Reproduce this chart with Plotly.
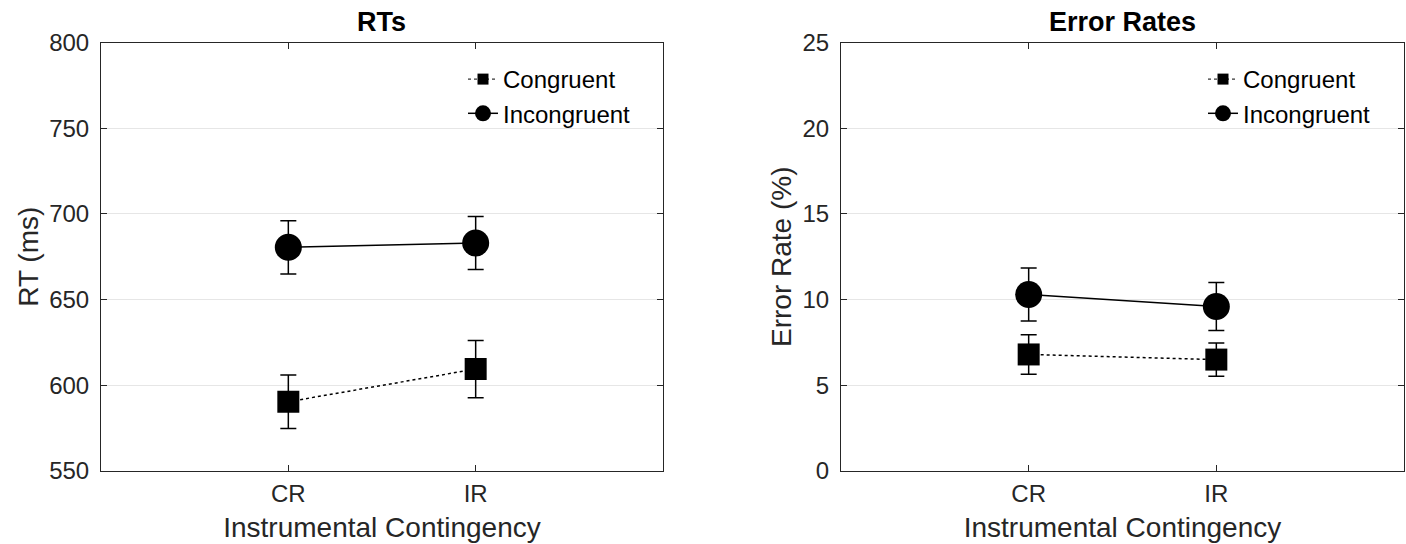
import plotly.graph_objects as go

conditions = ["CR", "IR"]
series_names = ["Congruent", "Incongruent"]

rt_congruent = [590.4, 609.5]
rt_congruent_err = [15.6, 16.7]
rt_incongruent = [680.5, 683.0]
rt_incongruent_err = [15.5, 15.5]

er_congruent = [6.8, 6.5]
er_congruent_err = [1.15, 0.97]
er_incongruent = [10.3, 9.6]
er_incongruent_err = [1.55, 1.4]

rt_ticks = [550, 600, 650, 700, 750, 800]
er_ticks = [0, 5, 10, 15, 20, 25]

FONT = "Liberation Sans, Arial, Helvetica, sans-serif"
AX = "#262626"
GRID = "#e6e6e6"

fig = go.Figure()

def add_series(xa, ya, y, err, name, square, legend):
    dash = "dot" if square else "solid"
    sym = "square" if square else "circle"
    size = 22 if square else 27
    fig.add_trace(go.Scatter(
        x=conditions, y=y, xaxis=xa, yaxis=ya, mode="lines+markers",
        line=dict(color="black", width=1.5, dash=dash),
        marker=dict(symbol=sym, size=size, color="black"),
        error_y=dict(type="data", array=err, visible=True, color="black", thickness=1.5, width=8),
        showlegend=False, name=name, hoverinfo="skip"))
    # legend entry
    fig.add_trace(go.Scatter(
        x=[None], y=[None], xaxis=xa, yaxis=ya, mode="lines+markers",
        line=dict(color="black", width=1.5 if not square else 1.0, dash=dash),
        marker=dict(symbol=sym, size=11 if square else 16, color="black"),
        name=name, legend=legend, showlegend=True))

add_series("x", "y", rt_congruent, rt_congruent_err, series_names[0], True, "legend")
add_series("x", "y", rt_incongruent, rt_incongruent_err, series_names[1], False, "legend")
add_series("x2", "y2", er_congruent, er_congruent_err, series_names[0], True, "legend2")
add_series("x2", "y2", er_incongruent, er_incongruent_err, series_names[1], False, "legend2")

W, H = 1406, 544
dom1 = [101/W, 663/W]
dom2 = [841/W, 1404/W]
ydom = [1 - 471/H, 1 - 42.5/H]

xcommon = dict(type="category", range=[-1, 2], showline=True, linecolor=AX, linewidth=1,
               mirror="ticks", ticks="inside", ticklen=6, tickcolor=AX, showgrid=False,
               zeroline=False, automargin=False, tickfont=dict(size=24, color=AX, family=FONT),
               ticklabelstandoff=1,
               title=dict(text="Instrumental Contingency", font=dict(size=28, color=AX, family=FONT), standoff=11))
ycommon = dict(showline=True, linecolor=AX, linewidth=1, mirror="ticks", ticks="inside",
               ticklen=6, tickcolor=AX, showgrid=True, gridcolor=GRID, gridwidth=1, zeroline=False,
               automargin=False, tickfont=dict(size=24, color=AX, family=FONT), ticklabelstandoff=6)

legcommon = dict(xanchor="left", yanchor="top", bgcolor="rgba(255,255,255,0)",
                 font=dict(size=24, color="black", family=FONT), tracegroupgap=0)

fig.update_layout(
    width=W, height=H, margin=dict(l=0, r=0, t=0, b=0, autoexpand=False),
    paper_bgcolor="white", plot_bgcolor="white",
    font=dict(family=FONT, color=AX),
    xaxis=dict(domain=dom1, anchor="y", **xcommon),
    xaxis2=dict(domain=dom2, anchor="y2", **xcommon),
    yaxis=dict(domain=ydom, anchor="x", range=[550, 800], tickvals=rt_ticks,
               title=dict(text="RT (ms)", font=dict(size=28, color=AX, family=FONT), standoff=2), **ycommon),
    yaxis2=dict(domain=ydom, anchor="x2", range=[0, 25], tickvals=er_ticks,
                title=dict(text="Error Rate (%)", font=dict(size=28, color=AX, family=FONT), standoff=2), **ycommon),
    legend=dict(x=463/W, y=1 - 57/H, **legcommon),
    legend2=dict(x=1203/W, y=1 - 57/H, **legcommon),
    annotations=[
        dict(text="<b>RTs</b>", x=(dom1[0] + dom1[1]) / 2, y=1 - 22/H, xref="paper", yref="paper",
             xanchor="center", yanchor="middle", showarrow=False, font=dict(size=27, color="black", family=FONT)),
        dict(text="<b>Error Rates</b>", x=(dom2[0] + dom2[1]) / 2, y=1 - 22/H, xref="paper", yref="paper",
             xanchor="center", yanchor="middle", showarrow=False, font=dict(size=27, color="black", family=FONT)),
    ],
)

fig.write_html("out.html", config={"displayModeBar": False},
               post_script="document.body.style.margin='0';document.body.style.overflow='hidden';")
